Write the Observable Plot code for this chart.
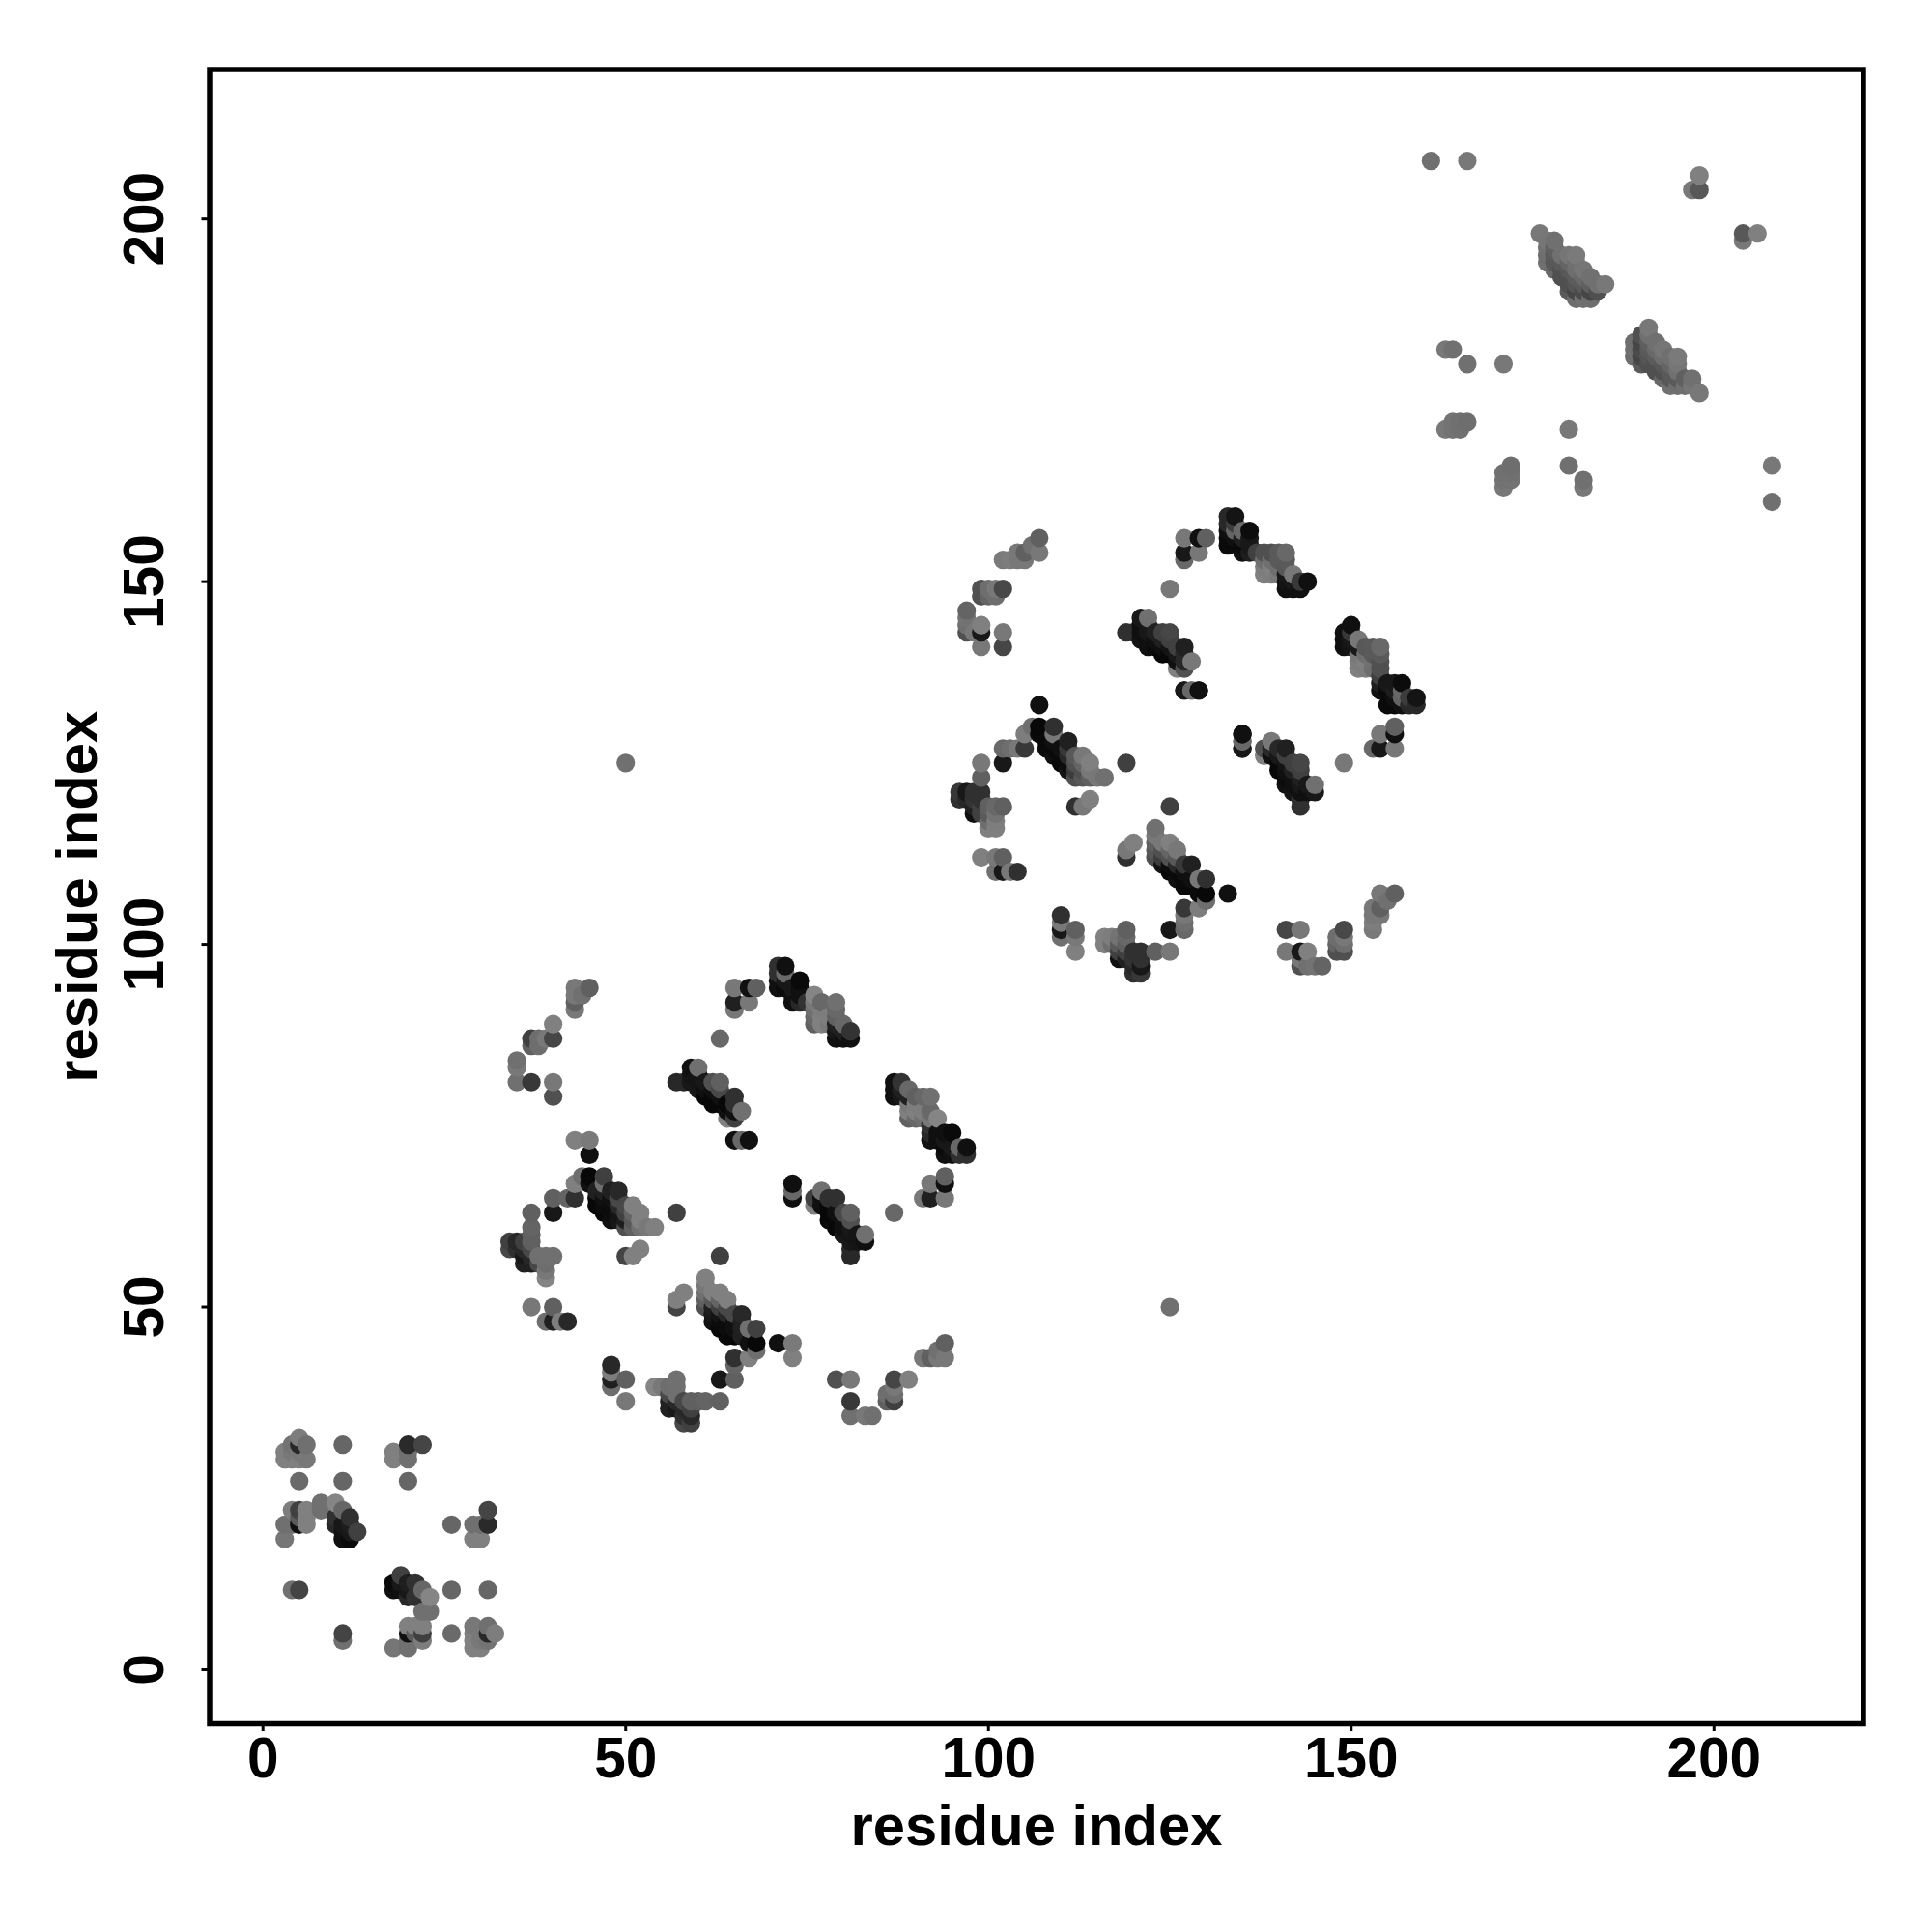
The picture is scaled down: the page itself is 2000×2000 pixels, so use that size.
<!DOCTYPE html>
<html>
<head>
<meta charset="utf-8">
<script src="https://cdn.jsdelivr.net/npm/d3@7"></script>
<script src="https://cdn.jsdelivr.net/npm/@observablehq/plot@0.6"></script>
<style>html,body{margin:0;padding:0;background:#fff}</style>
</head>
<body>
<div id="chart"></div>
<script>
// Contacts are [residue i, residue j, grey level]; the map is symmetric.
const domainOneLocal = [
[3,18,118],[3,20,112],[3,29,128],[3,30,128],[4,11,112],[4,20,112],[4,22,125],[4,29,128],[4,30,120],[4,31,115],
[5,11,68],[5,20,16],[5,21,90],[5,22,64],[5,26,106],[5,29,128],[5,30,120],[5,31,40],[5,32,125],
[6,20,128],[6,21,128],[6,22,128],[6,29,120],[6,31,112],[8,22,112],[8,23,112],
[10,20,40],[10,21,48],[10,23,133],[11,18,16],[11,19,16],[11,20,24],[11,22,102],[11,26,102],[11,31,102],
[12,18,10],[12,19,24],[12,20,30],[12,21,48],[13,19,64],
[18,29,128],[18,30,128],[20,26,102],[20,29,112],[20,30,112],[20,31,42],[22,31,69]
];
const repeatOneLeft = [
[34,58,72],[34,59,64],[35,58,48],[35,59,40],[36,56,32],[36,57,24],[36,58,40],[36,59,64],
[37,56,32],[37,57,40],[37,58,72],[37,59,96],[37,60,96],[37,61,100],[37,63,96],
[38,56,72],[38,57,112],[39,54,133],[39,55,120],[39,56,110],[39,57,112],[40,57,112],[40,63,24],[40,65,96],
[37,50,120],[40,50,96],[39,48,110],[40,48,32],[41,48,125],[42,48,40],
[43,65,48],[42,65,100],[43,67,128],[44,68,110],[45,67,16],[45,68,8],[45,71,16],[43,73,128],[45,73,122],[47,68,64]
];
const repeatOneStripeA = [
[46,64,8],[46,65,8],[46,66,32],[47,63,8],[47,64,12],[47,65,16],[47,66,32],[47,67,112],
[48,62,16],[48,63,12],[48,64,12],[48,65,16],[48,66,32],[49,62,24],[49,63,20],[49,64,40],[49,65,72],[49,66,40],
[50,61,80],[50,62,30],[50,63,64],[50,64,72],[51,61,96],[51,62,88],[51,63,100],[51,64,128],
[52,61,112],[52,62,128],[52,63,128],[53,61,120],[54,61,128],[50,57,68],[51,57,128],[52,58,128],[57,63,64]
];
const repeatOneStripeC = [
[57,81,40],[58,81,40],[59,81,24],[59,82,21],[59,83,16],[60,80,24],[60,81,21],[60,82,21],[60,83,112],
[61,79,8],[61,80,16],[61,81,24],[62,78,8],[62,79,8],[62,80,16],[62,81,80],
[63,78,8],[63,79,16],[63,80,72],[63,81,96],[64,76,128],[64,77,16],[64,78,8],
[65,76,64],[65,77,16],[65,78,48],[65,79,48],[66,77,112]
];
const repeatOneArcs = [
[35,81,112],[35,83,120],[35,84,112],[37,81,56],[40,79,80],[40,81,120],
[37,86,96],[37,87,64],[38,86,110],[38,87,110],[39,87,120],[40,87,70],[40,89,128],
[43,91,120],[43,92,96],[43,93,120],[43,94,120],[44,93,112],[45,94,96],
[63,87,104],[65,91,120],[65,92,32],[65,94,120],[67,92,120],[67,94,16],[68,94,96],[65,73,16],[66,73,104],[67,73,16]
];
const repeatOneStripeE = [
[71,94,16],[71,95,16],[71,96,48],[71,97,48],[72,94,10],[72,95,24],[72,96,104],[72,97,16],
[73,92,16],[73,93,16],[73,94,24],[74,92,40],[74,93,16],[74,94,16],[74,95,10],[75,92,50],
[76,89,96],[76,90,104],[76,91,112],[76,92,120],[76,93,133],[77,89,128],[77,90,128],[77,91,125],[77,92,104],
[78,89,120],[78,90,125],[79,87,16],[79,88,24],[79,89,32],[79,90,96],[79,91,104],[79,92,112],
[80,87,16],[80,88,32],[80,89,104],[81,87,16],[81,88,51]
];
const interRepeat = [[50,125,112]];
const repeatTwoLeft = [
[96,120,48],[96,121,56],[97,120,40],[97,121,24],[98,118,16],[98,119,32],[98,120,51],[98,121,48],
[99,118,64],[99,119,64],[99,120,48],[99,121,48],[99,123,96],[99,125,120],
[100,116,128],[100,117,110],[100,118,90],[100,119,96],[101,116,128],[101,117,125],[101,118,115],[101,119,104],
[102,119,96],[102,125,24],[102,127,104],[103,127,110],[104,127,120],[105,127,56],
[101,110,112],[102,110,24],[103,110,120],[104,110,48],[99,112,128],[101,112,120],[102,112,96],
[105,129,125],[106,130,110],[107,129,10],[107,130,8],[107,133,16]
];
const repeatTwoStripeA = [
[108,127,10],[108,128,10],[109,126,16],[109,127,10],[109,128,16],[109,129,120],[109,130,48],
[110,125,8],[110,126,10],[110,127,16],[111,124,20],[111,125,12],[111,126,40],[111,127,56],[111,128,32],
[112,123,80],[112,124,60],[112,125,80],[112,126,88],[113,123,88],[113,124,80],[113,125,100],[113,126,120],
[114,123,96],[114,124,120],[114,125,128],[115,123,120],[116,123,112],
[112,119,48],[113,119,120],[114,120,128],[119,125,64]
];
const repeatTwoStripeC = [
[119,143,48],[120,143,48],[121,142,20],[121,143,16],[121,144,16],[121,145,24],[122,141,16],[122,142,16],[122,143,24],[122,144,24],[122,145,112],
[123,141,12],[123,142,16],[123,143,32],[124,140,8],[124,141,16],[124,142,32],[124,143,64],
[125,140,8],[125,141,20],[125,142,64],[125,143,70],[126,138,128],[126,139,16],[126,140,24],[126,141,64],
[127,138,80],[127,139,40],[127,140,40],[127,141,32],[128,139,120]
];
const repeatTwoArcs = [
[97,143,80],[97,144,112],[97,145,115],[97,146,100],[98,143,120],[99,141,120],[99,143,24],[99,144,128],[102,141,70],[102,143,120],
[99,148,80],[99,149,80],[100,148,100],[100,149,110],[101,148,110],[101,149,120],[102,149,72],
[102,153,122],[103,153,125],[104,153,120],[105,153,120],[104,154,120],[105,154,96],[106,155,112],[107,154,120],[107,156,96],
[125,149,120],[127,135,24],[128,135,104],[129,135,16],[127,153,104],[127,154,24],[127,156,120],[129,154,120],[129,156,16],[130,156,96],
[135,127,24],[135,128,104],[135,129,16]
];
const repeatTwoStripeE = [
[133,155,10],[133,156,10],[133,157,16],[133,158,40],[133,159,40],[134,156,16],[134,157,100],[134,158,60],[134,159,20],
[135,154,16],[135,155,10],[135,156,30],[135,157,104],[136,154,30],[136,155,24],[136,156,24],[136,157,12],
[137,154,64],[138,151,128],[138,152,125],[138,153,110],[138,154,80],[139,151,125],[139,152,128],[139,153,112],[139,154,80],
[140,151,120],[140,152,110],[140,153,90],[140,154,90],[141,149,16],[141,150,20],[141,151,24],[141,152,88],[141,153,90],[141,154,104],
[142,149,16],[142,150,24],[142,151,120],[143,149,16],[143,150,56],[144,150,16]
];
const domainThreeLong = [
[161,208,112],[166,208,120],[197,204,120],[198,204,88],[198,206,128],
[163,171,120],[164,171,115],[165,171,112],[164,172,115],[165,172,112],[166,172,110],
[163,182,120],[164,182,112],[166,180,112],[171,180,120]
];
const domainThreeStripe = [
[176,198,120],[177,194,112],[177,195,110],[177,196,112],[177,197,118],[178,193,104],[178,194,88],[178,195,90],[178,196,96],[178,197,112],
[179,192,80],[179,193,80],[179,194,90],[179,195,112],[180,190,90],[180,191,80],[180,192,80],[180,193,88],[180,194,100],[180,195,118],
[181,189,110],[181,190,70],[181,191,85],[181,192,92],[181,193,110],[181,194,112],[181,195,122],
[182,189,112],[182,190,75],[182,191,90],[182,192,105],[182,193,118],[183,189,110],[183,190,70],[183,191,95],[183,192,112],
[184,190,80],[184,191,112],[185,191,120]
];
const axisTicks = [0, 50, 100, 150, 200];
const axisLabel = "residue index";

const contacts = [
  domainOneLocal, repeatOneLeft, repeatOneStripeA, repeatOneStripeC, repeatOneArcs, repeatOneStripeE,
  interRepeat, repeatTwoLeft, repeatTwoStripeA, repeatTwoStripeC, repeatTwoArcs, repeatTwoStripeE,
  domainThreeLong, domainThreeStripe
].flat();
const points = contacts
  .flatMap(([i, j, level]) => [{x: i, y: j, level}, {x: j, y: i, level}])
  .sort((a, b) => d3.ascending(a.x, b.x) || d3.ascending(a.y, b.y));

const chart = Plot.plot({
  width: 2000,
  height: 2000,
  marginLeft: 216.5,
  marginRight: 71.5,
  marginTop: 71.5,
  marginBottom: 216,
  style: {fontFamily: "'Liberation Sans', Arial, sans-serif", fontWeight: "bold", color: "#000", background: "#fff", overflow: "visible"},
  x: {domain: [-7.35, 220.6], label: null},
  y: {domain: [-7.46, 220.6], label: null},
  color: {type: "linear", domain: [0, 255], range: ["#000000", "#ffffff"], interpolate: "rgb"},
  marks: [
    Plot.dot(points, {x: "x", y: "y", r: 9.6, fill: "level", stroke: "none"}),
    Plot.frame({stroke: "#000", strokeWidth: 5.5}),
    Plot.axisX({ticks: axisTicks, tickSize: 8, tickPadding: 6, fontSize: 58.5, strokeWidth: 3, tickFormat: d3.format("d"), label: null}),
    Plot.axisY({ticks: axisTicks, tickSize: 8, tickPadding: 40, tickRotate: -90, fontSize: 58.5, strokeWidth: 3, tickFormat: d3.format("d"), label: null}),
    Plot.text([axisLabel], {frameAnchor: "bottom", lineAnchor: "middle", textAnchor: "middle", dy: 106, fontSize: 59.7, fontWeight: "bold", text: d => d}),
    Plot.text([axisLabel], {frameAnchor: "left", lineAnchor: "middle", textAnchor: "middle", rotate: -90, dx: -136, fontSize: 59.7, fontWeight: "bold", text: d => d})
  ]
});
document.getElementById("chart").appendChild(chart);
</script>
</body>
</html>
